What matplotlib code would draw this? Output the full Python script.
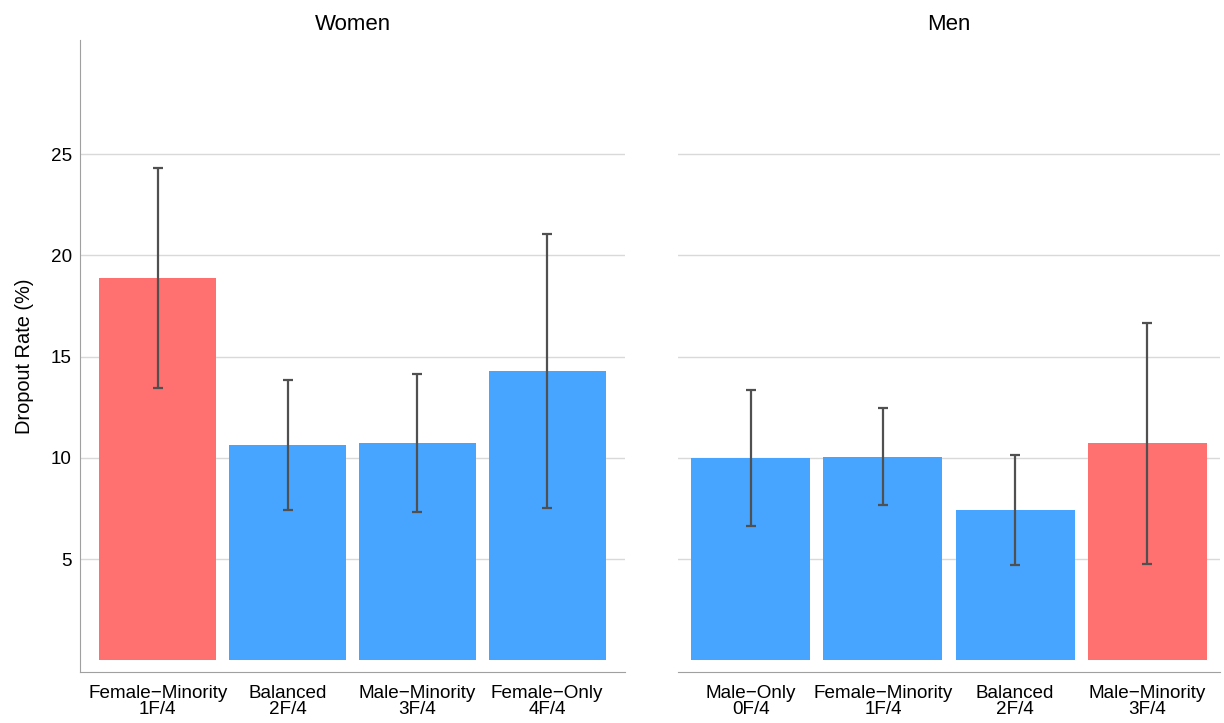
import matplotlib
matplotlib.use("Agg")
import matplotlib.pyplot as plt

plt.rcParams["font.family"] = ["Liberation Sans", "DejaVu Sans"]

MINUS = "\u2212"

women_groups = [f"Female{MINUS}Minority\n1F/4", "Balanced\n2F/4",
                f"Male{MINUS}Minority\n3F/4", f"Female{MINUS}Only\n4F/4"]
women_rate = [18.89, 10.64, 10.74, 14.30]
women_err = [5.43, 3.20, 3.40, 6.75]
women_minority = [True, False, False, False]

men_groups = [f"Male{MINUS}Only\n0F/4", f"Female{MINUS}Minority\n1F/4",
              "Balanced\n2F/4", f"Male{MINUS}Minority\n3F/4"]
men_rate = [10.00, 10.07, 7.45, 10.72]
men_err = [3.38, 2.40, 2.72, 5.96]
men_minority = [False, False, False, True]

y_ticks = [5, 10, 15, 20, 25]

RED = "#FF7070"
BLUE = "#47A5FF"
ERR = "#505050"
GRID = "#d9d9d9"
SPINE = "#a0a0a0"

fig = plt.figure(figsize=(12.24, 7.23), dpi=100)
ax_w = fig.add_axes([80 / 1224, 1 - 672 / 723, 545 / 1224, 632 / 723])
ax_m = fig.add_axes([678 / 1224, 1 - 672 / 723, 542 / 1224, 632 / 723])


def draw_panel(ax, groups, rate, err, minority, title, pad):
    x = list(range(len(groups)))
    colors = [RED if m else BLUE for m in minority]
    ax.bar(x, rate, width=0.9, color=colors, zorder=2)
    ax.errorbar(x, rate, yerr=err, fmt="none", ecolor=ERR, elinewidth=1.6,
                capsize=3.5, capthick=1.6, zorder=3)
    ax.set_xlim(-0.5 - pad, len(groups) - 0.5 + pad)
    ax.set_ylim(-0.57, 30.64)
    ax.set_xticks(x)
    ax.set_xticklabels(groups, fontsize=13.6, linespacing=0.95)
    ax.set_yticks(y_ticks)
    ax.tick_params(axis="x", length=0, pad=9, labelsize=13.6)
    ax.tick_params(axis="y", length=0, pad=6, labelsize=13.6)
    ax.grid(axis="y", color=GRID, linewidth=1, zorder=0)
    ax.set_axisbelow(True)
    ax.set_title(title, fontsize=16, pad=7)
    for side in ("top", "right"):
        ax.spines[side].set_visible(False)
    ax.spines["bottom"].set_color(SPINE)
    ax.spines["left"].set_color(SPINE)


draw_panel(ax_w, women_groups, women_rate, women_err, women_minority, "Women", 0.1)
draw_panel(ax_m, men_groups, men_rate, men_err, men_minority, "Men", 0.05)

ax_w.set_ylabel("Dropout Rate (%)", fontsize=14.4, labelpad=12)
ax_m.spines["left"].set_visible(False)
ax_m.set_yticklabels([])

fig.savefig("out.png", dpi=100)
